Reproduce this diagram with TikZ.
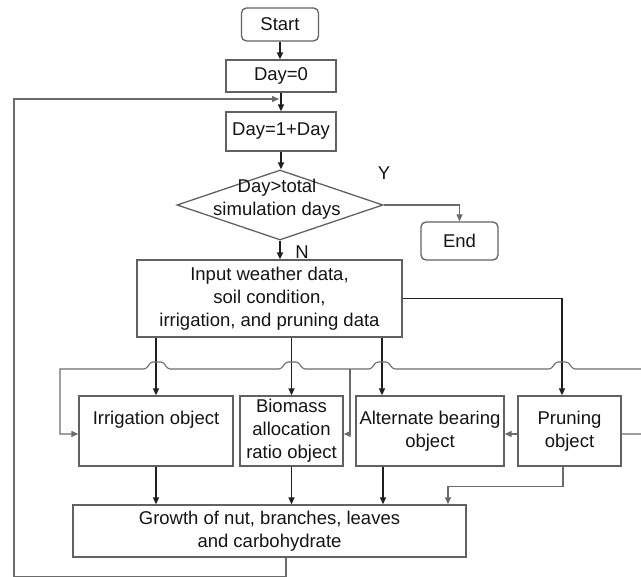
\documentclass[tikz,border=0pt]{standalone}
\usepackage{fontspec}
\setmainfont{Liberation Sans}
\usetikzlibrary{shapes.geometric,arrows.meta}
\definecolor{boxgray}{gray}{0.38}
\definecolor{linedark}{gray}{0.12}
\definecolor{busgray}{gray}{0.42}
\definecolor{txt}{gray}{0.08}
\begin{document}
\begin{tikzpicture}[x=1pt,y=-1pt,
  every node/.append style={text=txt},
  font=\fontsize{18.5}{23}\selectfont,
  box/.style={draw=boxgray,line width=1.3pt,inner sep=0pt,align=center,rectangle},
  rbox/.style={box,rounded corners=5pt},
  tip/.style={-{Triangle[length=7pt,width=6pt]}},
  dark/.style={draw=linedark,line width=1.5pt,tip},
  gline/.style={draw=busgray,line width=1.1pt},
  hopL/.style={insert path={.. controls +(-4,0) and +(4,0) .. ++(-9,-7) -- ++(-8,0) .. controls +(-4,0) and +(4,0) .. ++(-9,7)}},
  lbl/.style={inner sep=0pt}
]
\useasboundingbox (0,0) rectangle (641,577);
\clip (0,0) rectangle (641,577);

% nodes
\node[rbox,minimum width=77pt,minimum height=33pt] (start) at (280,24.5) {Start};
\node[box,minimum width=110pt,minimum height=32pt] (day0) at (281,76) {Day=0};
\node[box,minimum width=110pt,minimum height=39pt] (day1) at (281,131.5) {Day=1+Day};
\node[diamond,draw=boxgray,line width=1.3pt,inner sep=0pt,minimum width=206pt,minimum height=70pt,
  label={[lbl,align=center,yshift=6pt,xshift=-3pt]center:Day>total\\simulation days}] (dec) at (280,205) {};
\node[rbox,minimum width=77pt,minimum height=38pt] (end) at (459.5,241) {End};
\node[box,minimum width=265pt,minimum height=77pt] (input) at (269.5,298.5) {Input weather data,\\soil condition,\\irrigation, and pruning data};
\node[box,minimum width=154pt,minimum height=70pt,label={[lbl,yshift=11pt]center:Irrigation object}] (irr) at (156,431) {};
\node[box,minimum width=103pt,minimum height=70pt] (bio) at (291.5,431) {Biomass\\allocation\\ratio object};
\node[box,minimum width=148pt,minimum height=70pt] (alt) at (430,431) {Alternate bearing\\object};
\node[box,minimum width=103pt,minimum height=70pt] (pru) at (569.5,431) {Pruning\\object};
\node[box,minimum width=393pt,minimum height=52pt] (grow) at (269.5,531) {Growth of nut, branches, leaves\\and carbohydrate};
\node[lbl] (ylab) at (384,173) {Y};
\node[lbl] (nlab) at (302,252) {N};

% top chain
\coordinate (loopin) at (279,99);
\draw[dark] (start.south) -- (start.south |- day0.north);
\draw[gline,tip] ([xshift=16.5pt]grow.south) -- ++(0,18.5) -| (14,99) -- (loopin);
\draw[dark] (day0.south) -- (day1.north);
\draw[dark] (day1.south) -- (day1.south |- dec.north);
\draw[gline,tip] (dec.east) -| (end.north);
\draw[dark] (dec.south) -- (dec.south |- input.north);

% input to objects
\draw[dark] (irr.north |- input.south) -- (irr.north);
\draw[dark] (bio.north |- input.south) -- (bio.north);
\draw[dark] ([xshift=112.5pt]input.south) -- ([xshift=-48pt]alt.north);
\draw[dark] (input.east) -| ([xshift=-7.5pt]pru.north);

% feedback bus with line hops
\draw[gline,tip] ([yshift=-3pt]pru.east) -- (660,434) -- (660,369) -- (575,369) [hopL]
  -- (395,369) [hopL] -- (305,369) [hopL] -- (170,369) [hopL] -- (60,369) -- (60,434) -- (irr.west |- 60,434);
\draw[gline,tip] (350,369) -- (350,434) -- (bio.east |- 350,434);
\draw[gline,tip] ([yshift=-3pt]pru.west) -- ([yshift=-3pt]alt.east);

% objects to growth
\draw[dark] (irr.south) -- (irr.south |- grow.north);
\draw[dark] (bio.south) -- (bio.south |- grow.north);
\draw[dark] ([xshift=-47pt]alt.south) -- ([xshift=-47pt]alt.south |- grow.north);
\draw[gline,tip] ([xshift=-6.5pt]pru.south) -- ++(0,20) -| ([xshift=178.5pt]grow.north);
\end{tikzpicture}
\end{document}
